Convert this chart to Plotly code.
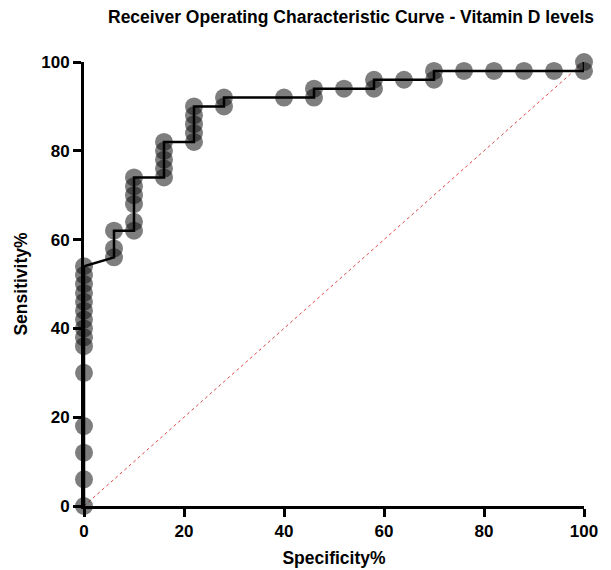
import plotly.graph_objects as go

# ROC points: x = 100% - Specificity% (axis labelled Specificity% in source), y = Sensitivity%
x_vals = ([0] * 15 + [6, 6, 6] + [10] * 6 + [16] * 5 + [22] * 5 + [28, 28] + [40]
          + [46, 46] + [52] + [58, 58] + [64] + [70, 70] + [76, 82, 88, 94] + [100, 100])
y_vals = ([0, 6, 12, 18, 30, 36, 38, 40, 42, 44, 46, 48, 50, 52, 54]
          + [56, 58, 62]
          + [62, 64, 68, 70, 72, 74]
          + [74, 76, 78, 80, 82]
          + [82, 84, 86, 88, 90]
          + [90, 92] + [92] + [92, 94] + [94] + [94, 96] + [96] + [96, 98]
          + [98, 98, 98, 98] + [98, 100])

# line path drawn through the ROC points (vertical/horizontal/diagonal steps)
line_x = [0, 0, 6, 6, 10, 10, 16, 16, 22, 22, 28, 28, 46, 46, 58, 58, 70, 70, 100, 100]
line_y = [0, 54, 56, 62, 62, 74, 74, 82, 82, 90, 90, 92, 92, 94, 94, 96, 96, 98, 98, 100]

ref_x = [0, 100]
ref_y = [0, 100]

tick_vals = [0, 20, 40, 60, 80, 100]
title_text = "Receiver Operating Characteristic Curve - Vitamin D levels"
x_title = "Specificity%"
y_title = "Sensitivity%"

FONT = "Liberation Sans, Arial, sans-serif"

fig = go.Figure()
fig.add_trace(go.Scatter(
    x=ref_x, y=ref_y, mode="lines",
    line=dict(color="rgb(225,70,70)", width=1, dash="dot"),
    hoverinfo="skip", showlegend=False, cliponaxis=False,
))
fig.add_trace(go.Scatter(
    x=x_vals, y=y_vals, mode="markers",
    marker=dict(size=18, color="rgba(20,20,20,0.55)", line=dict(width=0)),
    showlegend=False, cliponaxis=False,
))
fig.add_trace(go.Scatter(
    x=line_x, y=line_y, mode="lines",
    line=dict(color="black", width=2.5),
    showlegend=False, cliponaxis=False,
))

axis_common = dict(
    range=[0, 100], tickvals=tick_vals, ticks="outside", ticklen=8, tickwidth=3,
    tickcolor="black", showline=True, linewidth=3, linecolor="black",
    showgrid=False, zeroline=False,
    tickfont=dict(family=FONT, size=17, color="black", weight="bold"),
)

# the page body has an 8px margin, so margins are offset to place the plot area
fig.update_layout(
    width=611, height=570,
    margin=dict(l=76, r=35, t=54, b=72),
    plot_bgcolor="white", paper_bgcolor="white",
    title=dict(text=title_text, x=343 / 611, xref="container", xanchor="center",
               y=1 - 9 / 570, yref="container", yanchor="middle",
               font=dict(family=FONT, size=17.5, color="black", weight="bold")),
    xaxis=dict(**axis_common,
               title=dict(text=x_title, standoff=12,
                          font=dict(family=FONT, size=17.5, color="black", weight="bold"))),
    yaxis=dict(**axis_common,
               title=dict(text=y_title, standoff=10,
                          font=dict(family=FONT, size=17.5, color="black", weight="bold"))),
)

fig.write_html("out.html")
